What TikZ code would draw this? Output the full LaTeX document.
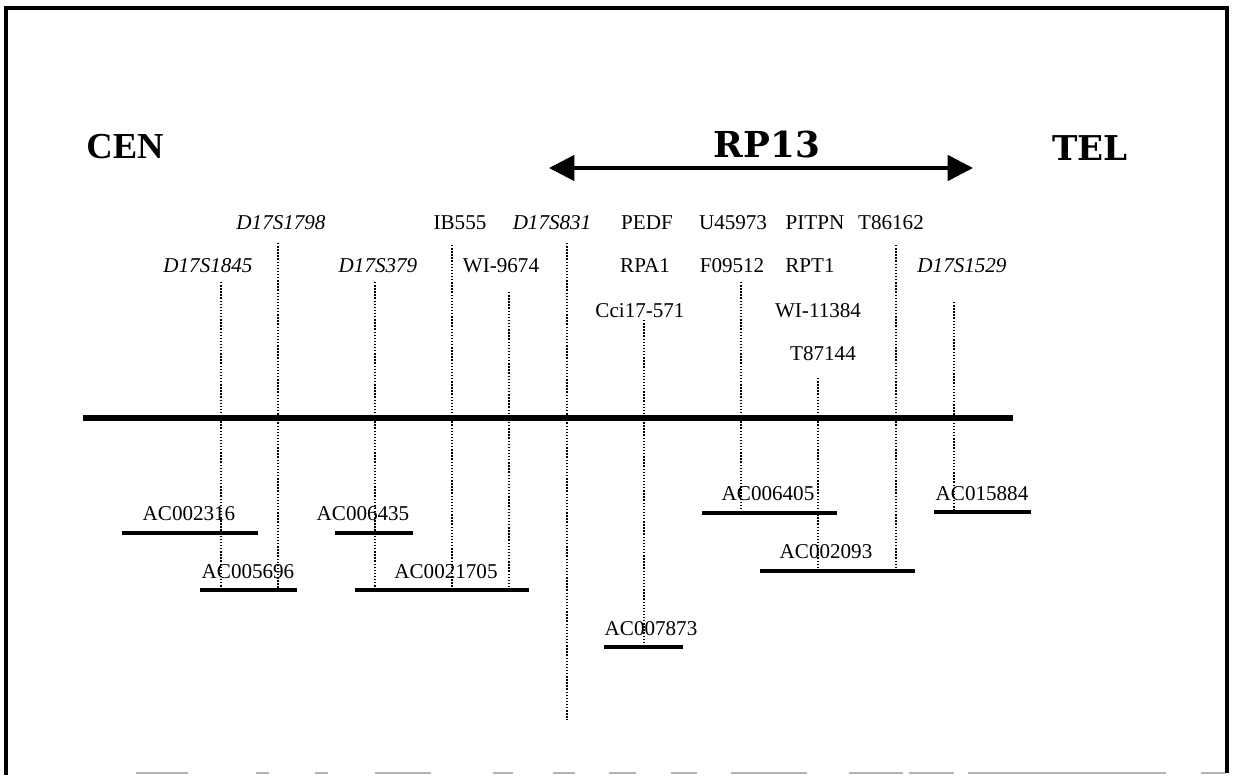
\documentclass[tikz,border=0pt]{standalone}
\usepackage{fontspec}
\setmainfont{Liberation Serif}
\newfontfamily\headfont{DejaVu Serif}
\usetikzlibrary{arrows.meta}

\begin{document}
\begin{tikzpicture}[x=0.025cm, y=-0.025cm,
    lbl/.style={inner sep=0pt, anchor=base, font=\fontsize{15}{18}\selectfont},
    ilbl/.style={lbl, font=\fontsize{15}{18}\selectfont\itshape},
    probe/.style={line width=1pt, dash pattern=on 1pt off 1.2pt},
    clone/.style={line width=2.8pt},
    chrom/.style={line width=4.8pt}]
    \useasboundingbox (0,0) rectangle (1234,775);

    % frame
    \draw[line width=2.6pt] (6,775) -- (6,8) -- (1227,8) -- (1227,773);
    \foreach \xa/\xb in {136/188, 256/269, 315/328, 375/431, 493/513, 553/575,
        609/636, 671/697, 731/807, 849/903, 909/954, 968/1166, 1201/1225}
        \draw[gray!60, line width=1.4pt] (\xa,773) -- (\xb,773);

    % ends and region
    \node[lbl, font=\fontsize{26}{30}\selectfont\bfseries] (cen) at (125,158) {CEN};
    \node[lbl, font=\fontsize{24.3}{28}\selectfont\headfont\bfseries] (tel) at (1090,160) {TEL};
    \node[lbl, font=\fontsize{25.4}{30}\selectfont\headfont\bfseries] (rp13) at (767,157) {RP13};
    \coordinate (rpl) at (549,168);
    \coordinate (rpr) at (973,168);
    \draw[line width=2.5pt, {Triangle[length=18pt,width=18pt]}-{Triangle[length=18pt,width=18pt]}]
        (rpl) -- (rpr);

    % markers
    \node[ilbl] (d17s1798) at (281,229) {D17S1798};
    \node[lbl]  (ib555)    at (460,229) {IB555};
    \node[ilbl] (d17s831)  at (552,229) {D17S831};
    \node[lbl]  (pedf)     at (647,229) {PEDF};
    \node[lbl]  (u45973)   at (733,229) {U45973};
    \node[lbl]  (pitpn)    at (815,229) {PITPN};
    \node[lbl]  (t86162)   at (891,229) {T86162};
    \node[ilbl] (d17s1845) at (208,272) {D17S1845};
    \node[ilbl] (d17s379)  at (378,272) {D17S379};
    \node[lbl]  (wi9674)   at (501,272) {WI-9674};
    \node[lbl]  (rpa1)     at (645,272) {RPA1};
    \node[lbl]  (f09512)   at (732,272) {F09512};
    \node[lbl]  (rpt1)     at (810,272) {RPT1};
    \node[ilbl] (d17s1529) at (962,272) {D17S1529};
    \node[lbl]  (cci17)    at (640,317) {Cci17-571};
    \node[lbl]  (wi11384)  at (818,317) {WI-11384};
    \node[lbl]  (t87144)   at (823,360) {T87144};

    % chromosome
    \draw[chrom] (83,418) -- (1013,418);

    % clones
    \coordinate (b1l) at (122,533); \coordinate (b1r) at (258,533);
    \coordinate (b2l) at (335,533); \coordinate (b2r) at (413,533);
    \coordinate (b3l) at (200,590); \coordinate (b3r) at (297,590);
    \coordinate (b4l) at (355,590); \coordinate (b4r) at (529,590);
    \coordinate (b5l) at (702,513); \coordinate (b5r) at (837,513);
    \coordinate (b6l) at (934,512); \coordinate (b6r) at (1031,512);
    \coordinate (b7l) at (760,571); \coordinate (b7r) at (915,571);
    \coordinate (b8l) at (604,647); \coordinate (b8r) at (683,647);
    \foreach \i in {1,...,8}
        \draw[clone] (b\i l) -- (b\i r);
    \node[lbl] (ac002316)  at (189,520) {AC002316};
    \node[lbl] (ac006435)  at (363,520) {AC006435};
    \node[lbl] (ac005696)  at (248,578) {AC005696};
    \node[lbl] (ac0021705) at (446,578) {AC0021705};
    \node[lbl] (ac006405)  at (768,500) {AC006405};
    \node[lbl] (ac015884)  at (982,500) {AC015884};
    \node[lbl] (ac002093)  at (826,558) {AC002093};
    \node[lbl] (ac007873)  at (651,635) {AC007873};

    % probe lines
    \coordinate (p1)  at (221,282);
    \coordinate (p2)  at (278,243);
    \coordinate (p3)  at (375,282);
    \coordinate (p4)  at (452,245);
    \coordinate (p5)  at (509,292);
    \coordinate (p6)  at (567,243);
    \coordinate (p6e) at (567,720);
    \coordinate (p7)  at (644,320);
    \coordinate (p8)  at (741,282);
    \coordinate (p9)  at (818,378);
    \coordinate (p10) at (896,245);
    \coordinate (p11) at (954,302);
    \foreach \p/\b in {p1/b3l, p2/b3l, p3/b4l, p4/b4l, p5/b4l, p6/p6e,
        p7/b8l, p8/b5l, p9/b7l, p10/b7l, p11/b6l}
        \draw[probe] (\p) -- (\p |- \b);
\end{tikzpicture}
\end{document}
